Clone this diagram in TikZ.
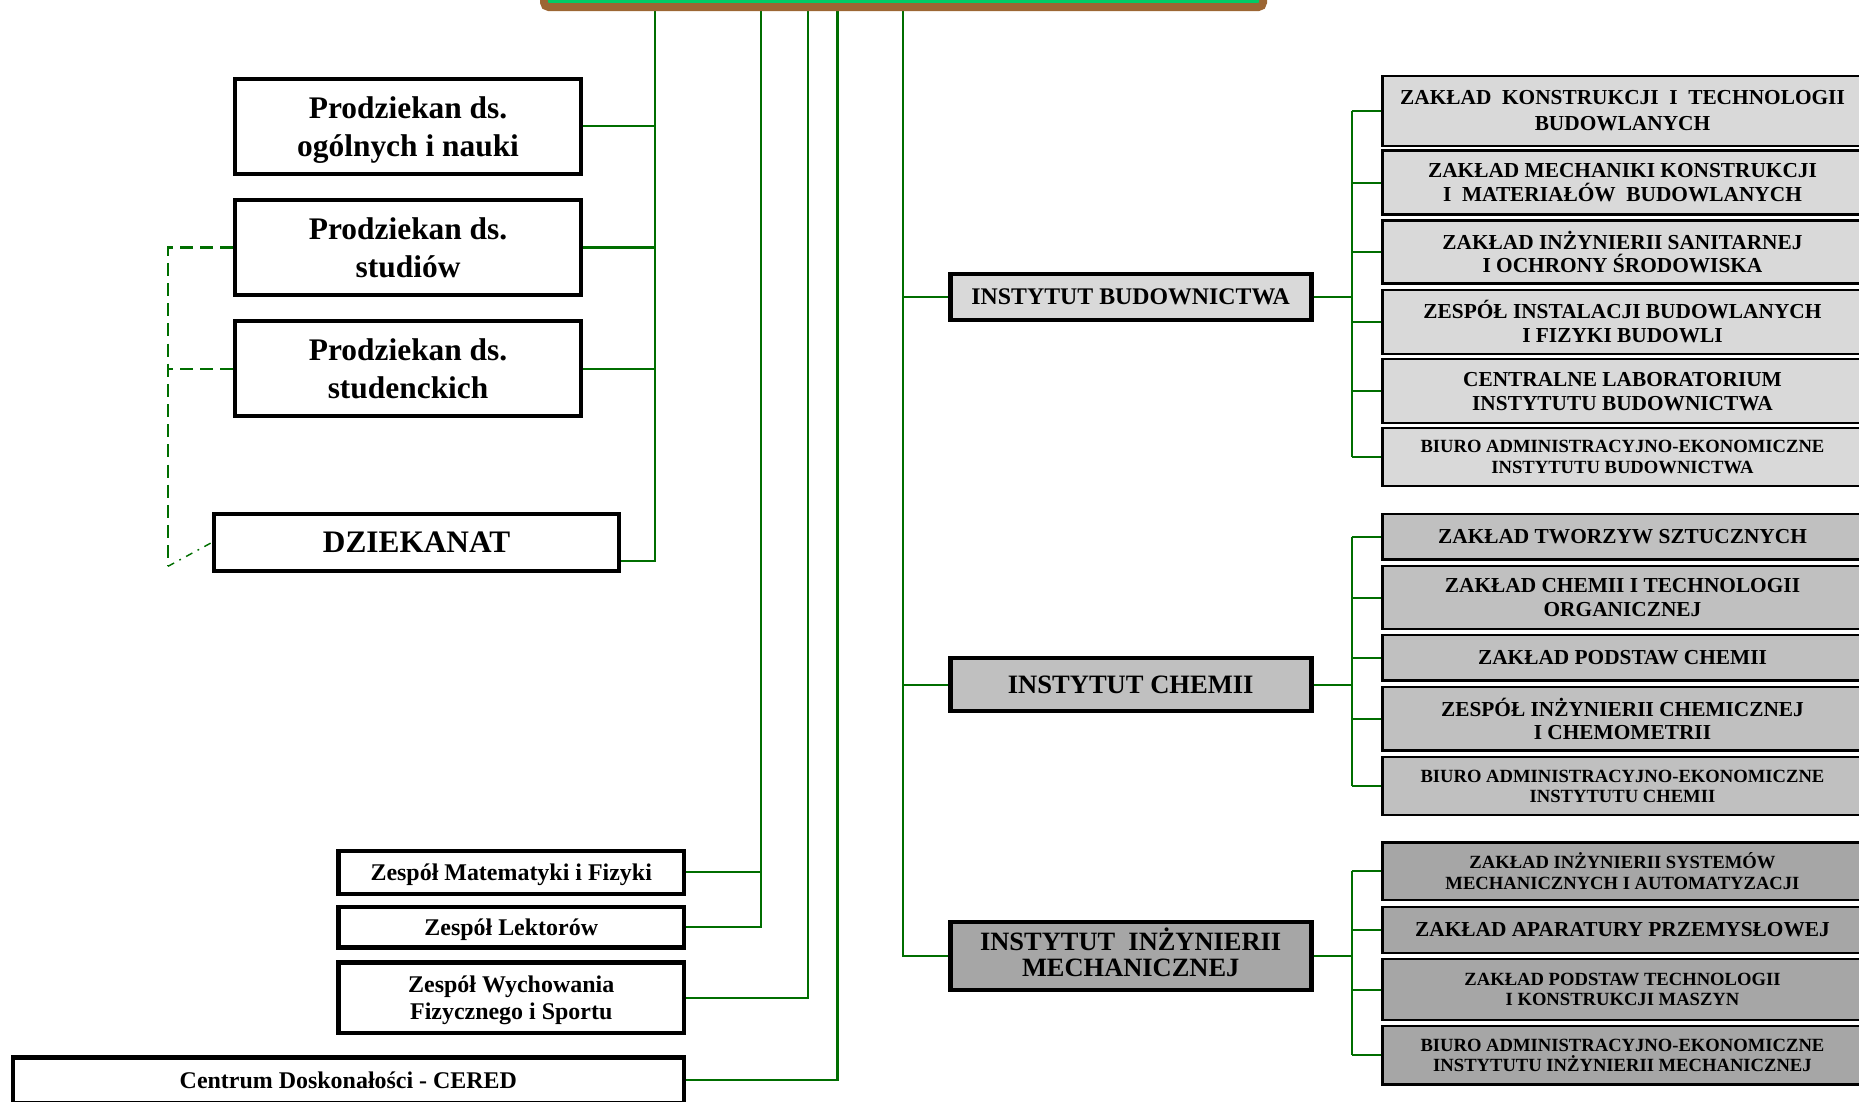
\documentclass[tikz,border=0pt]{standalone}
\usepackage{fontspec}
\setmainfont{Liberation Serif}
\definecolor{lgreen}{HTML}{006E00}
\definecolor{topgreen}{HTML}{00CC66}
\definecolor{topbrown}{HTML}{9C6633}
\definecolor{fillA}{HTML}{D9D9D9}
\definecolor{fillB}{HTML}{C0C0C0}
\definecolor{fillC}{HTML}{A6A6A6}
\begin{document}
\begin{tikzpicture}[x=1pt,y=-1pt,
  conn/.style={draw=lgreen, line width=1.8pt},
  dashconn/.style={draw=lgreen, line width=1.8pt, dash pattern=on 11pt off 6pt},
  dotconn/.style={draw=lgreen, line width=1.2pt, dash pattern=on 6pt off 5pt on 1.5pt off 5pt},
  box/.style={draw=black, fill=white, align=center, inner sep=0pt},
  pbox/.style={box, line width=3.3pt, minimum width=291.9pt, minimum height=80.5pt,
    font=\bfseries\fontsize{26.5}{32}\selectfont},
  zbox/.style={box, line width=3.7pt, minimum width=291.5pt, text depth=0pt,
    font=\bfseries\fontsize{20.2}{22}\selectfont},
  ibox/.style={box, line width=4pt, minimum width=304.6pt},
  ubox/.style={box, line width=2pt, minimum width=405pt,
    font=\bfseries\fontsize{18}{20}\selectfont},
  usmall/.style={font=\bfseries\fontsize{15.7}{17}\selectfont},
  topbox/.style={draw=topbrown, fill=topgreen, line width=6.6pt, rounded corners=4pt,
    minimum width=606.6pt, minimum height=100pt, inner sep=0pt}
]
\useasboundingbox (0,0) rectangle (1568,928.7);
\clip (0,0) rectangle (1568,928.7);

% spine tops
\coordinate (sL) at (552.8,8);
\coordinate (sM) at (641.8,8);
\coordinate (sW) at (681.4,8);
\coordinate (sC) at (706.4,8);
\coordinate (sI) at (761.4,8);
\coordinate (tU) at (1140,0);
\coordinate (dl) at (141.6,477.7);

% left column
\node[pbox, text depth=0pt] (p1) at (344.2,106.5) {Prodziekan ds.\\ogólnych i nauki};
\node[pbox, text depth=-3pt] (p2) at (344.2,208.8) {Prodziekan ds.\\studiów};
\node[pbox, text depth=-3pt] (p3) at (344.2,310.9) {Prodziekan ds.\\studenckich};
\node[box, line width=3.5pt, minimum width=341.3pt, minimum height=48.1pt, text depth=-3pt,
  font=\bfseries\fontsize{26.4}{30}\selectfont] (dz) at (351.4,457.4) {DZIEKANAT};

% zespoly
\node[zbox, minimum height=36.3pt] (zm) at (431.2,735.8) {Zespół Matematyki i Fizyki};
\node[zbox, minimum height=33.8pt] (zl) at (431.2,782.15) {Zespół Lektorów};
\node[zbox, minimum height=59.3pt] (zw) at (431.2,841.5) {Zespół Wychowania\\Fizycznego i Sportu};
\node[zbox, minimum width=566pt, minimum height=38.3pt] (ce) at (293.85,911) {Centrum Doskonałości - CERED};

% institutes
\node[ibox, fill=fillA, minimum height=39pt, text depth=-3pt, font=\bfseries\fontsize{20.1}{22}\selectfont]
  (ib) at (953.7,250.5) {INSTYTUT BUDOWNICTWA};
\node[ibox, fill=fillB, minimum height=44.8pt, font=\bfseries\fontsize{22.4}{24}\selectfont]
  (ic) at (953.7,577.4) {INSTYTUT CHEMII};
\node[ibox, fill=fillC, minimum height=57.3pt, text depth=7pt, font=\bfseries\fontsize{22.3}{22}\selectfont]
  (im) at (953.7,806.35) {INSTYTUT\ \ INŻYNIERII\\MECHANICZNEJ};

% units Budownictwa
\node[ubox, fill=fillA, minimum height=59pt, text depth=-3pt, font=\bfseries\fontsize{18}{22}\selectfont]
  (b1) at (1368.5,93.5) {ZAKŁAD\ \ KONSTRUKCJI\ \ I\ \ TECHNOLOGII\\BUDOWLANYCH};
\node[ubox, fill=fillA, minimum height=54pt] (b2) at (1368.5,154)
  {ZAKŁAD MECHANIKI KONSTRUKCJI\\I\ \ MATERIAŁÓW\ \ BUDOWLANYCH};
\node[ubox, fill=fillA, minimum height=53pt] (b3) at (1368.5,212.5)
  {ZAKŁAD INŻYNIERII SANITARNEJ\\I OCHRONY ŚRODOWISKA};
\node[ubox, fill=fillA, minimum height=53.9pt] (b4) at (1368.5,271.45)
  {ZESPÓŁ INSTALACJI BUDOWLANYCH\\I FIZYKI BUDOWLI};
\node[ubox, fill=fillA, minimum height=54pt] (b5) at (1368.5,330)
  {CENTRALNE LABORATORIUM\\INSTYTUTU BUDOWNICTWA};
\node[ubox, usmall, fill=fillA, minimum height=49pt] (b6) at (1368.5,385.5)
  {BIURO ADMINISTRACYJNO-EKONOMICZNE\\INSTYTUTU BUDOWNICTWA};

% units Chemii
\node[ubox, fill=fillB, minimum height=38.4pt] (c1) at (1368.5,452.6)
  {ZAKŁAD TWORZYW SZTUCZNYCH};
\node[ubox, fill=fillB, minimum height=53pt] (c2) at (1368.5,504.1)
  {ZAKŁAD CHEMII I TECHNOLOGII\\ORGANICZNEJ};
\node[ubox, fill=fillB, minimum height=38.2pt] (c3) at (1368.5,554.9)
  {ZAKŁAD PODSTAW CHEMII};
\node[ubox, fill=fillB, minimum height=53.4pt] (c4) at (1368.5,606.3)
  {ZESPÓŁ INŻYNIERII CHEMICZNEJ\\I CHEMOMETRII};
\node[ubox, usmall, fill=fillB, minimum height=48.9pt] (c5) at (1368.5,663.05)
  {BIURO ADMINISTRACYJNO-EKONOMICZNE\\INSTYTUTU CHEMII};

% units Mech
\node[ubox, usmall, fill=fillC, minimum height=48.5pt] (m1) at (1368.5,734.75)
  {ZAKŁAD INŻYNIERII SYSTEMÓW\\MECHANICZNYCH I AUTOMATYZACJI};
\node[ubox, fill=fillC, minimum height=39pt] (m2) at (1368.5,784.3)
  {ZAKŁAD APARATURY PRZEMYSŁOWEJ};
\node[ubox, usmall, fill=fillC, minimum height=51.4pt] (m3) at (1368.5,834.7)
  {ZAKŁAD PODSTAW TECHNOLOGII\\I KONSTRUKCJI MASZYN};
\node[ubox, usmall, fill=fillC, minimum height=49.2pt] (m4) at (1368.5,890.1)
  {BIURO ADMINISTRACYJNO-EKONOMICZNE\\INSTYTUTU INŻYNIERII MECHANICZNEJ};

% connectors: left column
\draw[conn] (sL) |- ([yshift=-15.6pt]dz.east);
\foreach \n in {p1,p2,p3} \draw[conn] (\n.east) -- (\n.east -| sL);
\draw[dashconn] (p2.west) -| (dl);
\draw[dashconn] (p3.west) -- (p3.west -| dl);
\draw[dotconn] (dl) -- (dz.west);

% connectors: zespoly
\draw[conn] (sM) |- (zl.east);
\draw[conn] (zm.east) -- (zm.east -| sM);
\draw[conn] (sW) |- (zw.east);
\draw[conn] (sC) |- (ce.east);

% connectors: institutes
\draw[conn] (sI) |- (im.west);
\draw[conn] (ib.west) -- (ib.west -| sI);
\draw[conn] (ic.west) -- (ic.west -| sI);

% connectors: units
\draw[conn] (ib.east) -- (ib.east -| tU);
\draw[conn] (b1.west -| tU) -- (b6.west -| tU);
\foreach \n in {b1,b2,b3,b4,b5,b6} \draw[conn] (\n.west -| tU) -- (\n.west);
\draw[conn] (ic.east) -- (ic.east -| tU);
\draw[conn] (c1.west -| tU) -- (c5.west -| tU);
\foreach \n in {c1,c2,c3,c4,c5} \draw[conn] (\n.west -| tU) -- (\n.west);
\draw[conn] (im.east) -- (im.east -| tU);
\draw[conn] (m1.west -| tU) -- (m4.west -| tU);
\foreach \n in {m1,m2,m3,m4} \draw[conn] (\n.west -| tU) -- (\n.west);

% top box (cut off at the top edge)
\node[topbox] (top) at (762.1,-44) {};
\end{tikzpicture}
\end{document}
